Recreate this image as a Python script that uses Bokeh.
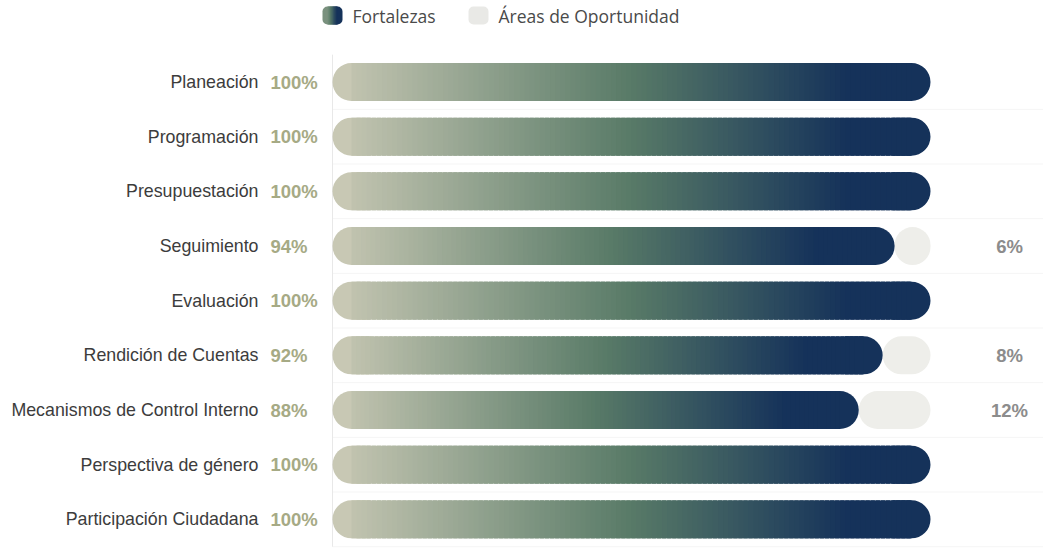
from bokeh.plotting import figure
from bokeh.models import Range1d, ColumnDataSource
from bokeh.core.properties import value
from bokeh.embed import file_html
from bokeh.resources import INLINE

# ---------------- data ----------------
categories = ["Planeación", "Programación", "Presupuestación", "Seguimiento",
              "Evaluación", "Rendición de Cuentas", "Mecanismos de Control Interno",
              "Perspectiva de género", "Participación Ciudadana"]
fortalezas = [100, 100, 100, 94, 100, 92, 88, 100, 100]
oportunidad = [0, 0, 0, 6, 0, 8, 12, 0, 0]
legend_labels = ["Fortalezas", "Áreas de Oportunidad"]

# ---------------- layout helpers ----------------
W, H = 1043, 550
X0, X100 = 332, 930           # pixel of 0% and 100%
PXU = (X100 - X0) / 100.0     # pixels per percent
ROW0, ROWSTEP = 81.5, 54.67   # pixel center of first row, row spacing
BAR_PX = 38                   # bar thickness in pixels
R_PX = 19                     # corner radius px

def dx(px):
    return (px - X0) / PXU

def dy(py):
    return (py - ROW0) / ROWSTEP

STOPS = [(0.0, (200, 200, 180)), (0.5, (88, 122, 103)), (0.86, (21, 50, 90)), (1.0, (21, 50, 90))]

def grad(t):
    t = max(0.0, min(1.0, t))
    for (t0, c0), (t1, c1) in zip(STOPS[:-1], STOPS[1:]):
        if t <= t1:
            f = (t - t0) / (t1 - t0) if t1 > t0 else 0
            c = tuple(int(round(a + (b - a) * f)) for a, b in zip(c0, c1))
            return "#%02x%02x%02x" % c
    return "#%02x%02x%02x" % STOPS[-1][1]

p = figure(width=W, height=H, output_backend="svg", toolbar_location=None,
           x_range=Range1d(dx(0), dx(W)), y_range=Range1d(dy(H), dy(0)),
           x_axis_type=None, y_axis_type=None, min_border=0,
           outline_line_color=None, background_fill_color="white")
p.xgrid.visible = False
p.ygrid.visible = False

n = len(categories)
ys = list(range(n))
h = BAR_PX / ROWSTEP
r = R_PX / PXU

# faint grid lines (row boundaries) and vertical base line
p.segment(x0=[0] * n, x1=[dx(W)] * n, y0=[i + 0.5 for i in ys], y1=[i + 0.5 for i in ys],
          line_color="#f5f5f5", line_width=1)
p.segment(x0=[0], x1=[0], y0=[-0.5], y1=[n - 0.5], line_color="#e8e8e8", line_width=1)

# remainder (Áreas de Oportunidad) pills
rem_src = ColumnDataSource(dict(y=[y for y, o in zip(ys, oportunidad) if o > 0],
                                left=[f for f, o in zip(fortalezas, oportunidad) if o > 0],
                                right=[f + o for f, o in zip(fortalezas, oportunidad) if o > 0]))
p.hbar(y="y", left="left", right="right", height=h, source=rem_src,
       fill_color="#eeeeea", line_color=None, border_radius=R_PX)

# gradient bars (Fortalezas)
lc = dict(y=[], left=[], right=[])
rc = dict(y=[], left=[], right=[])
sl = dict(left=[], right=[], top=[], bottom=[], color=[])
N = 110
for y, v in zip(ys, fortalezas):
    if v <= 0:
        continue
    lc["y"].append(y); lc["left"].append(0); lc["right"].append(2 * r)
    rc["y"].append(y); rc["left"].append(v - 2 * r); rc["right"].append(v)
    a, b = r, v - r
    step = (b - a) / N
    for k in range(N):
        x0 = a + k * step
        x1 = x0 + step
        sl["left"].append(x0)
        sl["right"].append(min(b, x1 + step * 0.8))
        sl["top"].append(y - h / 2); sl["bottom"].append(y + h / 2)
        sl["color"].append(grad((x0 + x1) / 2 / v))

p.hbar(y="y", left="left", right="right", height=h, source=ColumnDataSource(lc),
       fill_color=grad(0), line_color=None, border_radius=(R_PX, 0, 0, R_PX))
p.hbar(y="y", left="left", right="right", height=h, source=ColumnDataSource(rc),
       fill_color=grad(1), line_color=None, border_radius=(0, R_PX, R_PX, 0))
p.quad(left="left", right="right", top="top", bottom="bottom", source=ColumnDataSource(sl),
       fill_color="color", line_color=None)

# category labels
p.text(x=[0] * n, y=ys, text=categories, text_font=value("Liberation Sans"),
       text_font_size="17.8px", text_color="#3c3c3c", text_align="right",
       text_baseline="middle", x_offset=-74)
# Fortalezas percentages
p.text(x=[0] * n, y=ys, text=[f"{v}%" for v in fortalezas], text_font=value("Liberation Sans"),
       text_font_size="18.5px", text_font_style="bold", text_color="#a6aa85", text_align="left",
       text_baseline="middle", x_offset=-62)
# Oportunidad percentages
oy = [y for y, o in zip(ys, oportunidad) if o > 0]
ot = [f"{o}%" for o in oportunidad if o > 0]
p.text(x=[100] * len(oy), y=oy, text=ot, text_font=value("Liberation Sans"),
       text_font_size="18.5px", text_font_style="bold", text_color="#8c8c8c", text_align="center",
       text_baseline="middle", x_offset=79)

# ---------------- legend ----------------
ly = dy(15)
lh = 18 / ROWSTEP
lr = 5
icon_l, icon_r = dx(322), dx(342)
ic = dict(left=[], right=[], color=[])
M = 12
capw = lr / PXU
seg = (icon_r - icon_l - 2 * capw) / M
for k in range(M):
    a = icon_l + capw + k * seg
    ic["left"].append(a); ic["right"].append(min(icon_r - capw, a + seg * 1.6))
    ic["color"].append(grad(0.35 + 0.55 * (k + 0.5) / M))
p.hbar(y=[ly], left=[icon_l], right=[icon_l + 2 * capw], height=lh, fill_color=grad(0.35),
       line_color=None, border_radius=(lr, 0, 0, lr))
p.hbar(y=[ly], left=[icon_r - 2 * capw], right=[icon_r], height=lh, fill_color=grad(0.9),
       line_color=None, border_radius=(0, lr, lr, 0))
p.hbar(y=[ly] * M, left=ic["left"], right=ic["right"], height=lh, fill_color=ic["color"],
       line_color=None)
p.hbar(y=[ly], left=[dx(468)], right=[dx(488)], height=lh, fill_color="#e9e9e6",
       line_color=None, border_radius=lr)
p.text(x=[dx(352), dx(498)], y=[ly, ly], text=legend_labels, text_font=value("Open Sans"),
       text_font_size="17.5px", text_color="#4a4a4a", text_align="left", text_baseline="middle")

open("out.html", "w").write(file_html(p, INLINE))
